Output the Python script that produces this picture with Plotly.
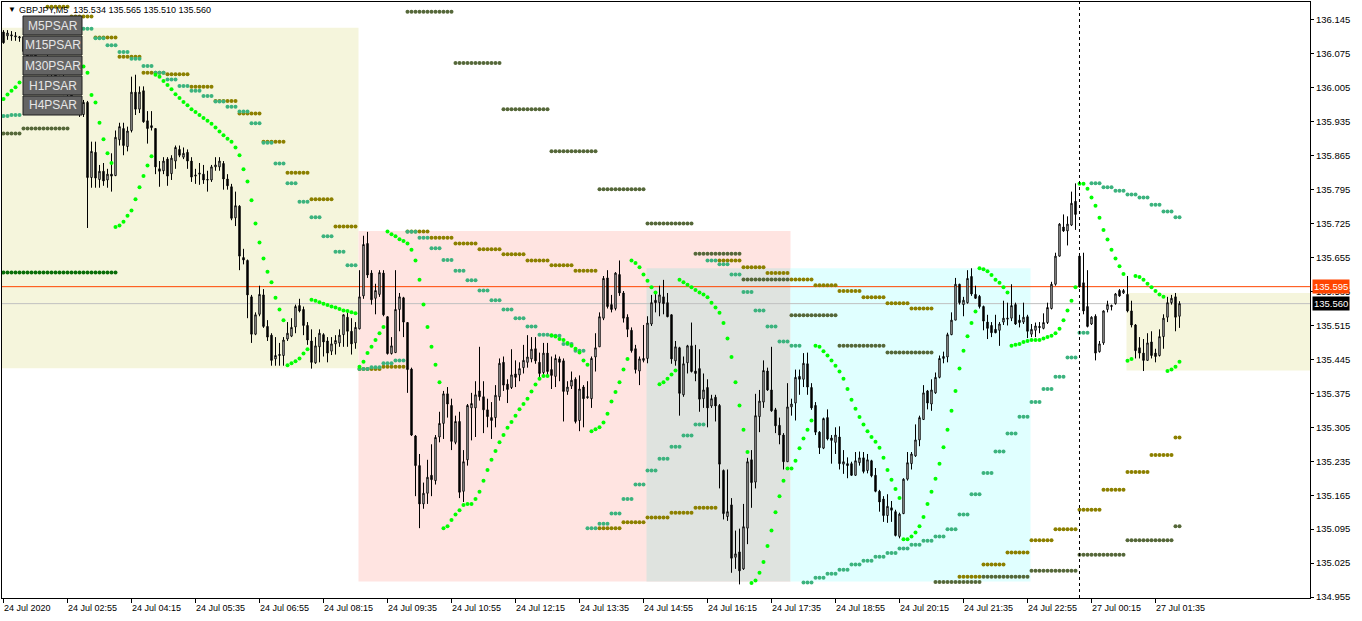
import plotly.graph_objects as go

# ---------------- data ----------------
open_ = [136.120,136.112,136.112,136.110,136.108,136.110,136.080,136.070,136.085,136.060,
136.048,136.062,136.035,136.042,136.015,136.025,135.995,136.002,135.970,135.978,
135.950,135.975,135.820,135.872,135.816,135.833,135.815,135.827,135.824,135.898,
135.921,135.884,135.917,135.996,135.961,135.999,135.937,135.927,135.921,135.838,
135.834,135.858,135.828,135.854,135.878,135.862,135.872,135.854,135.823,135.827,
135.827,135.816,135.815,135.842,135.842,135.849,135.817,135.801,135.737,135.761,
135.655,135.649,135.574,135.497,135.538,135.578,135.513,135.495,135.446,135.453,
135.453,135.487,135.493,135.512,135.556,135.548,135.515,135.483,135.438,135.471,
135.496,135.483,135.462,135.477,135.479,135.496,135.532,135.503,135.479,135.508,
135.576,135.684,135.623,135.571,135.579,135.623,135.533,135.457,135.459,135.548,
135.572,135.521,135.425,135.287,135.226,135.147,135.169,135.206,135.195,135.285,
135.313,135.374,135.350,135.274,135.317,135.173,135.238,135.345,135.345,135.380,
135.368,135.341,135.325,135.325,135.368,135.439,135.394,135.387,135.415,135.413,
135.428,135.439,135.446,135.467,135.439,135.418,135.458,135.424,135.410,135.446,
135.442,135.379,135.390,135.404,135.319,135.388,135.366,135.364,135.450,135.471,
135.530,135.613,135.558,135.550,135.620,135.582,135.532,135.505,135.467,135.421,
135.443,135.447,135.518,135.567,135.562,135.574,135.562,135.537,135.442,135.469,
135.372,135.438,135.473,135.421,135.426,135.364,135.387,135.349,135.367,135.350,
135.216,135.121,135.145,135.037,135.048,135.013,135.097,135.238,135.192,135.327,
135.357,135.421,135.382,135.341,135.309,135.289,135.234,135.347,135.355,135.410,
135.404,135.436,135.387,135.350,135.295,135.262,135.325,135.283,135.274,135.285,
135.229,135.230,135.230,135.206,135.232,135.242,135.216,135.236,135.206,135.173,
135.157,135.123,135.139,135.131,135.080,135.127,135.198,135.230,135.246,135.279,
135.321,135.380,135.353,135.376,135.408,135.447,135.450,135.496,135.526,135.600,
135.558,135.562,135.616,135.579,135.575,135.554,135.522,135.515,135.507,135.505,
135.522,135.528,135.530,135.558,135.526,135.522,135.533,135.497,135.505,135.513,
135.509,135.521,135.550,135.600,135.658,135.718,135.710,135.722,135.771,135.658,
135.603,135.554,135.518,135.534,135.461,135.479,135.548,135.554,135.560,135.587,
135.582,135.579,135.545,135.516,135.469,135.458,135.443,135.481,135.458,135.453,
135.492,135.532,135.562,135.574,135.534]

high = [136.124,136.124,136.122,136.120,136.112,136.112,136.095,136.090,136.092,136.070,
136.068,136.075,136.050,136.055,136.030,136.035,136.010,136.012,135.985,135.985,
135.980,135.978,135.894,135.894,135.846,135.850,135.838,135.870,135.917,135.933,
135.933,135.925,136.028,136.032,136.008,136.008,135.957,135.957,135.921,135.854,
135.862,135.862,135.866,135.886,135.886,135.882,135.878,135.862,135.838,135.850,
135.846,135.834,135.846,135.862,135.862,135.854,135.827,135.807,135.791,135.763,
135.673,135.651,135.578,135.542,135.597,135.590,135.526,135.499,135.491,135.479,
135.491,135.522,135.530,135.558,135.570,135.554,135.522,135.507,135.491,135.507,
135.499,135.491,135.491,135.495,135.507,135.538,135.542,135.530,135.522,135.629,
135.700,135.708,135.629,135.601,135.629,135.629,135.534,135.491,135.629,135.582,
135.574,135.522,135.428,135.289,135.250,135.191,135.238,135.270,135.289,135.337,
135.380,135.388,135.364,135.329,135.337,135.258,135.353,135.376,135.400,135.471,
135.400,135.364,135.357,135.392,135.447,135.451,135.404,135.466,135.443,135.439,
135.475,135.495,135.491,135.491,135.459,135.479,135.479,135.451,135.455,135.451,
135.447,135.400,135.420,135.408,135.412,135.392,135.400,135.451,135.499,135.542,
135.617,135.629,135.578,135.625,135.649,135.586,135.538,135.511,135.475,135.451,
135.516,135.534,135.578,135.586,135.597,135.609,135.582,135.538,135.483,135.471,
135.451,135.475,135.521,135.475,135.466,135.416,135.404,135.372,135.372,135.353,
135.218,135.218,135.159,135.092,135.096,135.147,135.242,135.258,135.374,135.382,
135.443,135.428,135.471,135.345,135.325,135.293,135.396,135.364,135.424,135.424,
135.458,135.459,135.396,135.357,135.297,135.325,135.342,135.289,135.305,135.307,
135.258,135.243,135.234,135.254,135.255,135.254,135.250,135.238,135.221,135.176,
135.163,135.167,135.153,135.135,135.129,135.200,135.254,135.254,135.311,135.329,
135.392,135.382,135.404,135.418,135.453,135.461,135.500,135.542,135.613,135.601,
135.574,135.629,135.633,135.597,135.578,135.556,135.537,135.522,135.537,135.522,
135.566,135.562,135.600,135.562,135.537,135.562,135.537,135.518,135.521,135.522,
135.540,135.562,135.605,135.665,135.726,135.744,135.740,135.791,135.808,135.661,
135.665,135.629,135.534,135.538,135.483,135.546,135.566,135.558,135.582,135.590,
135.590,135.617,135.566,135.518,135.491,135.487,135.499,135.503,135.467,135.507,
135.538,135.574,135.578,135.582,135.565]

low = [136.096,136.104,136.102,136.102,136.100,136.076,136.065,136.062,136.055,136.040,
136.044,136.030,136.020,136.010,136.000,135.990,135.975,135.965,135.955,135.945,
135.945,135.716,135.799,135.799,135.799,135.803,135.799,135.791,135.823,135.886,
135.866,135.874,135.913,135.949,135.953,135.933,135.890,135.917,135.827,135.801,
135.827,135.803,135.815,135.838,135.862,135.858,135.838,135.811,135.807,135.805,
135.807,135.791,135.811,135.834,135.834,135.795,135.795,135.732,135.720,135.629,
135.641,135.530,135.479,135.495,135.534,135.510,135.483,135.432,135.432,135.432,
135.432,135.483,135.491,135.499,135.542,135.495,135.475,135.426,135.436,135.439,
135.451,135.439,135.454,135.455,135.471,135.471,135.471,135.455,135.467,135.507,
135.570,135.613,135.558,135.538,135.574,135.534,135.455,135.455,135.459,135.503,
135.491,135.376,135.287,135.163,135.097,135.137,135.147,135.163,135.187,135.274,
135.281,135.325,135.258,135.270,135.159,135.151,135.226,135.278,135.285,135.360,
135.293,135.305,135.281,135.305,135.360,135.380,135.355,135.384,135.388,135.400,
135.416,135.428,135.439,135.436,135.404,135.412,135.412,135.384,135.388,135.400,
135.317,135.372,135.384,135.313,135.297,135.305,135.364,135.345,135.420,135.471,
135.526,135.550,135.542,135.546,135.576,135.521,135.491,135.459,135.416,135.392,
135.439,135.437,135.514,135.542,135.534,135.538,135.532,135.436,135.432,135.329,
135.368,135.416,135.418,135.400,135.337,135.345,135.305,135.345,135.317,135.179,
135.115,135.112,135.005,135.013,134.981,135.011,135.064,135.139,135.179,135.295,
135.345,135.380,135.337,135.293,135.270,135.218,135.234,135.329,135.319,135.372,
135.388,135.372,135.341,135.289,135.250,135.260,135.278,135.230,135.250,135.218,
135.209,135.200,135.205,135.205,135.226,135.210,135.210,135.202,135.171,135.131,
135.110,135.108,135.110,135.080,135.076,135.126,135.195,135.218,135.244,135.266,
135.321,135.342,135.339,135.374,135.406,135.437,135.439,135.495,135.526,135.558,
135.534,135.560,135.576,135.570,135.550,135.505,135.487,135.491,135.499,135.473,
135.516,135.515,135.524,135.516,135.511,135.518,135.489,135.491,135.491,135.499,
135.507,135.518,135.548,135.597,135.657,135.708,135.680,135.720,135.712,135.593,
135.538,135.511,135.516,135.443,135.459,135.475,135.542,135.546,135.558,135.574,
135.580,135.542,135.511,135.447,135.447,135.421,135.443,135.447,135.439,135.451,
135.467,135.522,135.558,135.503,135.510]

close = [136.098,136.118,136.114,136.112,136.110,136.080,136.070,136.085,136.060,136.048,
136.062,136.035,136.042,136.015,136.025,135.995,136.002,135.970,135.978,135.950,
135.975,135.820,135.874,135.819,135.833,135.813,135.827,135.823,135.903,135.925,
135.886,135.916,135.996,135.961,135.996,135.935,135.921,135.923,135.842,135.833,
135.854,135.823,135.860,135.882,135.866,135.870,135.854,135.821,135.825,135.829,
135.815,135.815,135.842,135.846,135.854,135.817,135.803,135.736,135.762,135.658,
135.650,135.578,135.497,135.537,135.579,135.513,135.491,135.443,135.453,135.455,
135.485,135.499,135.511,135.554,135.545,135.515,135.485,135.439,135.473,135.499,
135.481,135.458,135.477,135.484,135.495,135.537,135.503,135.477,135.511,135.574,
135.682,135.619,135.568,135.587,135.624,135.537,135.457,135.473,135.548,135.574,
135.522,135.424,135.289,135.226,135.147,135.169,135.202,135.197,135.284,135.313,
135.374,135.353,135.276,135.317,135.171,135.234,135.350,135.354,135.372,135.368,
135.341,135.327,135.319,135.371,135.437,135.392,135.383,135.413,135.408,135.426,
135.443,135.450,135.466,135.442,135.416,135.458,135.420,135.412,135.447,135.439,
135.379,135.388,135.402,135.317,135.384,135.364,135.368,135.447,135.469,135.533,
135.612,135.554,135.548,135.623,135.582,135.530,135.507,135.463,135.424,135.446,
135.447,135.520,135.562,135.562,135.578,135.560,135.533,135.446,135.471,135.375,
135.436,135.473,135.420,135.416,135.363,135.382,135.345,135.364,135.349,135.229,
135.127,135.131,135.035,135.044,135.009,135.100,135.234,135.191,135.329,135.359,
135.422,135.382,135.339,135.308,135.289,135.234,135.347,135.353,135.408,135.404,
135.437,135.388,135.345,135.295,135.263,135.323,135.281,135.278,135.289,135.230,
135.234,135.226,135.206,135.236,135.242,135.214,135.238,135.205,135.173,135.151,
135.123,135.142,135.134,135.082,135.126,135.198,135.232,135.250,135.279,135.325,
135.376,135.355,135.382,135.408,135.447,135.451,135.496,135.526,135.600,135.562,
135.567,135.612,135.580,135.571,135.554,135.524,135.509,135.500,135.500,135.518,
135.530,135.530,135.556,135.518,135.521,135.532,135.503,135.507,135.514,135.511,
135.521,135.552,135.600,135.658,135.724,135.710,135.724,135.767,135.744,135.595,
135.545,135.513,135.532,135.458,135.477,135.545,135.558,135.556,135.580,135.576,
135.587,135.545,135.516,135.463,135.458,135.443,135.479,135.453,135.451,135.492,
135.530,135.562,135.571,135.532,135.560]

# M5 Parabolic SAR, one value per bar (None where hidden behind the buttons)
m5_sar = [135.982,135.991,135.999,136.006,136.016,None,None,None,None,None,
None,None,None,None,None,None,None,None,None,None,
136.049,136.036,135.990,135.975,135.933,135.899,135.870,135.850,135.718,135.721,
135.729,135.741,135.752,135.775,135.800,135.823,135.845,135.864,136.032,136.028,
136.019,136.011,136.002,135.992,135.984,135.976,135.969,135.961,135.955,135.949,
135.943,135.937,135.931,135.923,135.915,135.907,135.900,135.894,135.882,135.866,
135.837,135.812,135.773,135.725,135.686,135.653,135.626,135.604,135.572,135.548,
135.526,135.433,135.437,135.441,135.447,135.457,135.466,135.568,135.566,135.563,
135.560,135.557,135.554,135.552,135.549,135.546,135.545,135.542,135.540,135.430,
135.440,135.458,135.471,135.485,135.499,135.512,135.709,135.703,135.699,135.693,
135.689,135.684,135.671,135.649,135.609,135.558,135.512,135.471,135.434,135.398,
135.097,135.101,135.114,135.125,135.134,135.145,135.147,135.147,135.157,135.172,
135.195,135.217,135.238,135.256,135.274,135.289,135.304,135.316,135.329,135.342,
135.353,135.364,135.379,135.393,135.405,135.411,135.411,135.495,135.492,135.487,
135.485,135.479,135.473,135.467,135.459,135.443,135.434,135.297,135.301,135.305,
135.315,135.333,135.358,135.378,135.398,135.424,135.446,135.649,135.644,135.635,
135.620,135.607,135.594,135.583,135.394,135.398,135.405,135.414,135.422,135.609,
135.604,135.599,135.594,135.588,135.583,135.579,135.573,135.562,135.552,135.541,
135.520,135.488,135.450,135.398,135.350,135.300,135.254,134.984,134.989,135.005,
135.027,135.060,135.092,135.130,135.163,135.195,135.220,135.220,135.236,135.262,
135.282,135.300,135.319,135.473,135.471,135.462,135.453,135.443,135.432,135.420,
135.405,135.384,135.362,135.343,135.326,135.311,135.297,135.285,135.275,135.263,
135.242,135.217,135.197,135.178,135.159,135.074,135.074,135.080,135.088,135.101,
135.120,135.147,135.172,135.199,135.230,135.264,135.300,135.339,135.380,135.426,
135.463,135.493,135.520,135.544,135.633,135.631,135.627,135.619,135.609,135.603,
135.594,135.583,135.473,135.475,135.477,135.481,135.483,135.485,135.485,135.485,
135.488,135.491,135.494,135.499,135.508,135.526,135.546,135.566,135.594,135.807,
135.807,135.797,135.779,135.762,135.737,135.712,135.692,135.671,135.653,135.637,
135.621,135.442,135.446,135.617,135.615,135.609,135.601,135.594,135.586,135.579,
135.574,135.421,135.424,135.430,135.440]

# Higher-timeframe SAR: first M5 bar of each period and the SAR value of that period
m15_start = [0,2,5,20,23,26,29,32,35,38,41,44,47,50,53,56,59,62,65,68,71,74,77,80,83,86,89,92,95,98,
             101,104,107,110,113,116,119,122,125,128,131,134,137,140,143,146,149,152,155,158,161,164,167,170,
             173,176,179,182,185,188,191,194,197,200,203,206,209,212,215,218,221,224,227,230,233,236,239,242,
             245,248,251,254,257,260,263,266,269,272,275,278,281,284,287,290,293]
m15_val = [135.947,135.949,None,136.127,136.107,136.093,136.079,136.065,136.050,136.036,136.022,136.009,
           135.999,135.988,135.977,135.966,135.956,135.932,135.892,135.849,135.808,135.770,135.738,135.699,
           135.667,135.639,135.425,135.429,135.437,135.443,
           135.708,135.696,135.674,135.650,135.628,135.608,135.587,135.567,135.548,135.530,135.513,135.496,
           135.494,135.477,135.463,135.097,135.106,135.127,135.157,135.187,135.216,135.240,135.265,135.288,
           135.311,135.649,135.641,135.620,135.584,135.546,135.513,135.482,135.473,134.985,134.995,135.003,
           135.011,135.022,135.030,135.038,135.046,135.055,135.063,135.071,135.080,135.095,135.125,135.167,
           135.211,135.255,135.292,135.327,135.357,135.384,135.409,135.449,135.500,135.808,135.800,135.793,
           135.785,135.779,135.764,135.750,135.738]

m30_start = [0,11,17,23,29,35,41,47,53,59,65,71,77,83,89,95,101,107,113,119,125,131,137,143,149,155,161,
             167,173,179,185,191,197,203,209,215,221,227,233,239,245,251,257,263,269,275,281,287,293]
m30_val = [None,136.172,136.152,136.109,136.069,136.036,136.033,136.007,135.978,135.952,135.894,135.830,
           135.775,135.719,135.425,135.430,135.709,135.696,135.684,135.672,135.662,135.649,135.639,135.628,
           135.097,135.109,135.119,135.129,135.139,135.649,135.635,135.623,135.610,135.598,135.586,135.573,
           135.561,135.550,None,134.997,135.022,135.047,135.072,135.095,135.135,135.176,135.213,135.248,
           135.284]

h1_start = [0,5,17,101,113,125,137,149,161,173,185,197,209,221,233,245,257,269,281,293]
h1_val = [135.911,135.921,None,136.162,136.056,135.961,135.874,135.796,135.725,135.663,135.610,135.536,
          135.473,135.459,134.986,134.997,135.009,135.042,135.072,135.101]

h4_start = [0,29]
h4_val = [135.624,None]

NBARS = len(close)
bars = list(range(NBARS))

xtick_bars = [0,16,32,48,64,80,96,112,128,144,160,176,192,208,224,240,256,272,288]
xtick_text = ["24 Jul 2020","24 Jul 02:55","24 Jul 04:15","24 Jul 05:35","24 Jul 06:55","24 Jul 08:15",
              "24 Jul 09:35","24 Jul 10:55","24 Jul 12:15","24 Jul 13:35","24 Jul 14:55","24 Jul 16:15",
              "24 Jul 17:35","24 Jul 18:55","24 Jul 20:15","24 Jul 21:35","24 Jul 22:55","27 Jul 00:15",
              "27 Jul 01:35"]
ytick_vals = [134.955,135.025,135.095,135.165,135.235,135.305,135.375,135.445,135.515,135.585,
              135.655,135.725,135.795,135.865,135.935,136.005,136.075,136.145]

# session boxes: (first bar edge, last bar edge, low price, high price, colour)
box_x0 = [-2, 89, 161, 197, 281]
box_x1 = [89, 197, 197, 257, 330]
box_y0 = [135.427, 134.987, 134.987, 134.987, 135.422]
box_y1 = [136.129, 135.710, 135.633, 135.633, 135.582]
box_col = ["#F5F5DC", "#FFE4E1", "#DFE3DF", "#E0FFFF", "#F5F5DC"]

ask_price = 135.595
bid_price = 135.560
separator_bar = 269
buttons = ["M5PSAR", "M15PSAR", "M30PSAR", "H1PSAR", "H4PSAR"]
title_text = "GBPJPY,M5  135.534 135.565 135.510 135.560"

# ---------------- helpers ----------------
def expand(starts, vals):
    xs, ys = [], []
    for k, s in enumerate(starts):
        e = starts[k + 1] if k + 1 < len(starts) else NBARS
        if vals[k] is None:
            continue
        for b in range(s, min(e, NBARS)):
            xs.append(b)
            ys.append(vals[k])
    return xs, ys

W, H = 1362, 621
L, R, T, B = 2, 52, 2, 23
PW, PH = W - L - R, H - T - B
X0 = -0.375
X1 = X0 + PW / 4.0
def pxx(p):
    return (p - L) / PW
def pxy(p):
    return (H - B - p) / PH

FONT = "Liberation Sans"

fig = go.Figure()

fig.add_trace(go.Candlestick(
    x=bars, open=open_, high=high, low=low, close=close,
    increasing=dict(line=dict(color="black", width=1), fillcolor="white"),
    decreasing=dict(line=dict(color="black", width=1), fillcolor="black"),
    whiskerwidth=0, hoverinfo="skip", showlegend=False))

dot_sets = [(h4_start, h4_val, "#0A6E0A"), (h1_start, h1_val, "#56683A"),
            (m30_start, m30_val, "#8C8000"), (m15_start, m15_val, "#3CB37E")]
for st, vl, col in dot_sets:
    xs, ys = expand(st, vl)
    fig.add_trace(go.Scatter(x=xs, y=ys, mode="markers",
                             marker=dict(color=col, size=4, line=dict(width=0)),
                             hoverinfo="skip", showlegend=False))
fig.add_trace(go.Scatter(x=bars, y=m5_sar, mode="markers",
                         marker=dict(color="#00FF00", size=4, line=dict(width=0)),
                         hoverinfo="skip", showlegend=False))

shapes = []
for x0, x1, y0, y1, c in zip(box_x0, box_x1, box_y0, box_y1, box_col):
    shapes.append(dict(type="rect", xref="x", yref="y", x0=x0 - 0.25, x1=x1 - 0.25, y0=y0, y1=y1,
                       fillcolor=c, line=dict(width=0), layer="below"))
shapes.append(dict(type="line", xref="x", yref="y", x0=X0 - 1, x1=X1 + 1, y0=ask_price, y1=ask_price,
                   line=dict(color="#FF4500", width=1), layer="below"))
shapes.append(dict(type="line", xref="x", yref="y", x0=X0 - 1, x1=X1 + 1, y0=bid_price, y1=bid_price,
                   line=dict(color="#C0C0C0", width=1), layer="below"))
shapes.append(dict(type="line", xref="x", yref="paper", x0=separator_bar, x1=separator_bar, y0=0, y1=1,
                   line=dict(color="black", width=1, dash="dot"), layer="above"))

annotations = []
for k, name in enumerate(buttons):
    top = 16 + 20 * k
    bot = top + 19
    shapes.append(dict(type="rect", xref="paper", yref="paper", x0=pxx(23), x1=pxx(82),
                       y0=pxy(bot), y1=pxy(top), fillcolor="#646464",
                       line=dict(color="#1E1E1E", width=1), layer="above"))
    annotations.append(dict(xref="paper", yref="paper", x=pxx(52.5), y=pxy((top + bot) / 2),
                            text=name, showarrow=False, xanchor="center", yanchor="middle",
                            font=dict(family=FONT, size=12, color="#E6E6E6")))

annotations.append(dict(xref="paper", yref="paper", x=pxx(6), y=pxy(10), text="▼", showarrow=False,
                        xanchor="left", yanchor="middle", font=dict(family=FONT, size=8, color="black")))
annotations.append(dict(xref="paper", yref="paper", x=pxx(17), y=pxy(10), text=title_text, showarrow=False,
                        xanchor="left", yanchor="middle", font=dict(family=FONT, size=9, color="black")))

for b, t in zip(xtick_bars, xtick_text):
    annotations.append(dict(xref="x", yref="paper", x=b, y=0, yshift=-3, text=t, showarrow=False,
                            xanchor="left", yanchor="top", xshift=-2,
                            font=dict(family=FONT, size=9, color="black")))

annotations.append(dict(xref="paper", yref="y", x=1, y=ask_price, xshift=2, text="135.595",
                        showarrow=False, xanchor="left", yanchor="middle", bgcolor="#FF4500",
                        borderpad=1, font=dict(family=FONT, size=9.5, color="white")))
annotations.append(dict(xref="paper", yref="y", x=1, y=bid_price, xshift=2, text="135.560",
                        showarrow=False, xanchor="left", yanchor="middle", bgcolor="black",
                        borderpad=1, font=dict(family=FONT, size=9.5, color="white")))

fig.update_layout(
    width=W, height=H, margin=dict(l=L, r=R, t=T, b=B),
    paper_bgcolor="white", plot_bgcolor="white", showlegend=False,
    boxgap=0.5,
    shapes=shapes, annotations=annotations,
    xaxis=dict(range=[X0, X1], showgrid=False, zeroline=False,
               showline=True, linecolor="black", linewidth=1, mirror=True,
               ticks="outside", ticklen=4, tickcolor="black", tickvals=xtick_bars,
               showticklabels=False, rangeslider=dict(visible=False), fixedrange=True),
    yaxis=dict(range=[134.953, 136.182], side="right", showgrid=False, zeroline=False,
               showline=True, linecolor="black", linewidth=1, mirror=True,
               ticks="outside", ticklen=3, tickcolor="black", tickvals=ytick_vals,
               ticktext=["%.3f" % v for v in ytick_vals],
               tickfont=dict(family=FONT, size=9.5, color="black"), fixedrange=True),
)

fig.write_html("out.html", config={"displayModeBar": False},
               post_script="document.body.style.margin='0';")
